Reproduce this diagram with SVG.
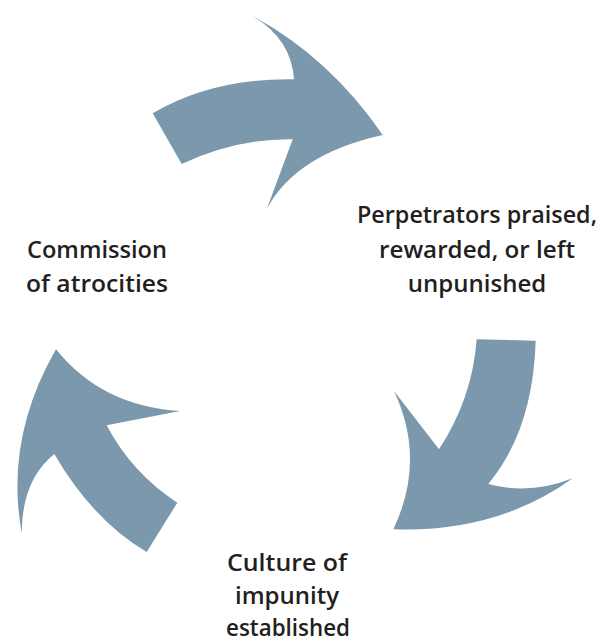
<svg xmlns="http://www.w3.org/2000/svg" width="603" height="644" viewBox="0 0 603 644">
  <style>
    .arrow { fill: #7b98ad; }
    .label { font-family: "Open Sans", "Liberation Sans", sans-serif; font-weight: 600; font-size: 24px; fill: #231f20; text-anchor: middle; }
  </style>
  <rect width="603" height="644" fill="#ffffff"/>
  <g id="connectors">
    <path id="arrow-top" class="arrow" d="M152.7,113.3 Q213,78 294,79.3 Q291,34.5 244.3,11.7 Q326.5,53.2 382.7,135 Q295.3,154.4 266.7,209.3 L292.7,139.3 Q236.2,138.3 181.7,164 Z"/>
    <path id="arrow-right" class="arrow" d="M476.7,339.3 L535.7,340.7 Q533,430 488.3,484 Q529.5,495.4 572.7,478.3 Q497,532.8 393.3,529.3 Q426.4,459.9 394,391 L439,449.3 Q472.1,399.1 476.7,339.3 Z"/>
    <path id="arrow-left" class="arrow" d="M146.7,552 L177.3,502.7 Q131.4,472.6 106.7,425.3 L180,411 Q102,406.4 56,349.3 Q4.5,439 21.7,532.7 Q22,480 54.3,454 Q92.9,520.4 146.7,552 Z"/>
  </g>
  <g id="node-perpetrators">
    <text class="label" x="477" y="223" textLength="240" lengthAdjust="spacingAndGlyphs">Perpetrators praised,</text>
    <text class="label" x="477" y="258" textLength="196" lengthAdjust="spacingAndGlyphs">rewarded, or left</text>
    <text class="label" x="477" y="292">unpunished</text>
  </g>
  <g id="node-culture">
    <text class="label" x="287" y="571" textLength="120" lengthAdjust="spacingAndGlyphs">Culture of</text>
    <text class="label" x="287" y="604">impunity</text>
    <text class="label" x="288" y="636" textLength="124" lengthAdjust="spacingAndGlyphs">established</text>
  </g>
  <g id="node-commission">
    <text class="label" x="97" y="258" textLength="140" lengthAdjust="spacingAndGlyphs">Commission</text>
    <text class="label" x="97" y="292" textLength="142" lengthAdjust="spacingAndGlyphs">of atrocities</text>
  </g>
</svg>
